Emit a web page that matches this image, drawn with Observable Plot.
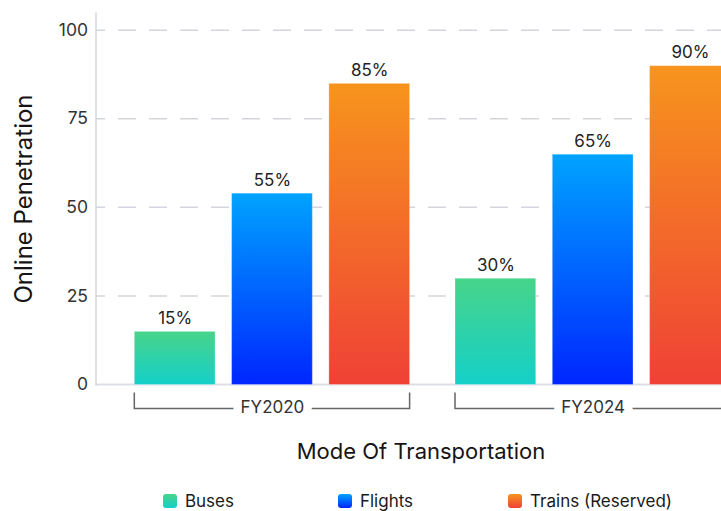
<!DOCTYPE html>
<html><head><meta charset="utf-8">
<script src="https://cdn.jsdelivr.net/npm/d3@7"></script>
<script src="https://cdn.jsdelivr.net/npm/@observablehq/plot@0.6"></script>
<style>
html,body{margin:0;padding:0;background:#fff;overflow:hidden;}
#chart{width:842px;font-family:Inter, sans-serif;color:#151515;}
#xtitle{margin-top:9.3px;height:24px;line-height:24px;font-size:22px;text-align:center;}
#legend{display:flex;justify-content:center;margin-top:24px;height:28px;align-items:center;font-size:17px;color:#1a1a1a;padding-right:7px;}
.item{display:flex;align-items:center;gap:8px;}
.item:nth-child(2){margin-left:104px;}
.item:nth-child(3){margin-left:95px;}
.sw{width:14px;height:14px;border-radius:3px;}
</style></head>
<body><div id="chart"></div>
<script>
// ---- data ----
const groups = ["FY2020", "FY2024"];
const modes = ["Buses", "Flights", "Trains (Reserved)"];
const valuesFY2020 = [15, 54, 85];
const valuesFY2024 = [30, 65, 90];
const labelsFY2020 = ["15%", "55%", "85%"];
const labelsFY2024 = ["30%", "65%", "90%"];
const yTicks = [0, 25, 50, 75, 100];
const yTitle = "Online Penetration";
const xTitle = "Mode Of Transportation";

// ---- styles ----
const gradTop = ["#48d48a", "#00a3ff", "#f7941d"];
const gradBottom = ["#14d0c8", "#0026ff", "#ef4136"];

const valuesByGroup = [valuesFY2020, valuesFY2024];
const labelsByGroup = [labelsFY2020, labelsFY2024];
const rows = [];
groups.forEach((g, gi) => modes.forEach((m, mi) => rows.push({
  group: g, mode: m, value: valuesByGroup[gi][mi], label: labelsByGroup[gi][mi]
})));

// a layer drawn once over the whole frame, using Plot's y scale
const axisLayer = Plot.frame({
  facet: "super",
  render(index, scales, values, dims) {
    const {y} = scales;
    const {width, marginLeft, marginRight, marginTop} = dims;
    const g = d3.create("svg:g");
    yTicks.filter(t => t > 0).forEach(t => {
      g.append("line").attr("x1", marginLeft).attr("x2", width - marginRight)
        .attr("y1", y(t)).attr("y2", y(t))
        .attr("stroke", "#d3d6dd").attr("stroke-width", 1.5)
        .attr("stroke-dasharray", "18,13").attr("stroke-dashoffset", 9);
    });
    g.append("line").attr("x1", marginLeft).attr("x2", width - marginRight)
      .attr("y1", y(0)).attr("y2", y(0))
      .attr("stroke", "#dcdfe5").attr("stroke-width", 2);
    g.append("line").attr("x1", marginLeft).attr("x2", marginLeft)
      .attr("y1", marginTop).attr("y2", y(0) + 1)
      .attr("stroke", "#d3d6dd").attr("stroke-width", 1.5);
    yTicks.forEach(t => {
      g.append("text").attr("x", marginLeft - 8).attr("y", y(t)).attr("dy", "0.32em")
        .attr("text-anchor", "end").attr("font-size", 17.5).attr("fill", "#333").text(String(t));
    });
    return g.node();
  }
});

const W = 842, H = 430;
const svg = Plot.plot({
  width: W, height: H,
  marginLeft: 96, marginRight: 111.7, marginTop: 12.5, marginBottom: H - 384.5,
  style: {fontFamily: "Inter, sans-serif", background: "white"},
  fx: {domain: groups, paddingInner: 0.0221, paddingOuter: 0, axis: null, round: false},
  x: {domain: modes, paddingInner: 0.17, paddingOuter: 0.1969, align: 1, axis: null, round: false},
  y: {domain: [0, 105], axis: null},
  color: {domain: modes, range: modes.map((m, i) => `url(#grad${i})`)},
  marks: [
    axisLayer,
    Plot.barY(rows, {fx: "group", x: "mode", y: "value", fill: "mode", stroke: "white", strokeOpacity: 0.3, strokeWidth: 1}),
    Plot.text(rows, {fx: "group", x: "mode", y: "value", text: "label", dy: -13.4, fontSize: 17, fill: "#222"}),
    Plot.ruleY(groups, {
      fx: d => d, y: () => 0,
      render(index, scales) {
        const {x, y} = scales;
        const x0 = x(modes[0]);
        const x1 = x(modes[modes.length - 1]) + x.bandwidth();
        const yb = y(0);
        const g = d3.create("svg:g");
        g.append("path").attr("d", `M${x0},${yb + 8}V${yb + 24}H${x1}V${yb + 8}`)
          .attr("fill", "none").attr("stroke", "#666").attr("stroke-width", 1.5);
        return g.node();
      }
    }),
    // group label centred on the group's middle bar
    Plot.text(groups, {fx: d => d, x: () => modes[1], y: () => 0, text: d => d, dy: 22.5, lineAnchor: "middle", fontSize: 17, fill: "#333", stroke: "white", strokeWidth: 17, paintOrder: "stroke"}),
    Plot.text([yTitle], {text: d => d, facet: "super", frameAnchor: "left", textAnchor: "middle", lineAnchor: "middle", rotate: -90, dx: -72.2, fontSize: 24, fill: "#151515"})
  ]
});

const defs = d3.select(svg).insert("defs", ":first-child");
modes.forEach((m, i) => {
  const lg = defs.append("linearGradient").attr("id", `grad${i}`)
    .attr("x1", 0).attr("y1", 0).attr("x2", 0).attr("y2", 1);
  lg.append("stop").attr("offset", "0%").attr("stop-color", gradTop[i]);
  lg.append("stop").attr("offset", "100%").attr("stop-color", gradBottom[i]);
});

const chart = d3.select("#chart");
chart.node().appendChild(svg);
chart.append("div").attr("id", "xtitle").text(xTitle);
const legend = chart.append("div").attr("id", "legend");
modes.forEach((m, i) => {
  const it = legend.append("div").attr("class", "item");
  it.append("div").attr("class", "sw").style("background", `linear-gradient(${gradTop[i]}, ${gradBottom[i]})`);
  it.append("span").text(m);
});
</script>
</body></html>
